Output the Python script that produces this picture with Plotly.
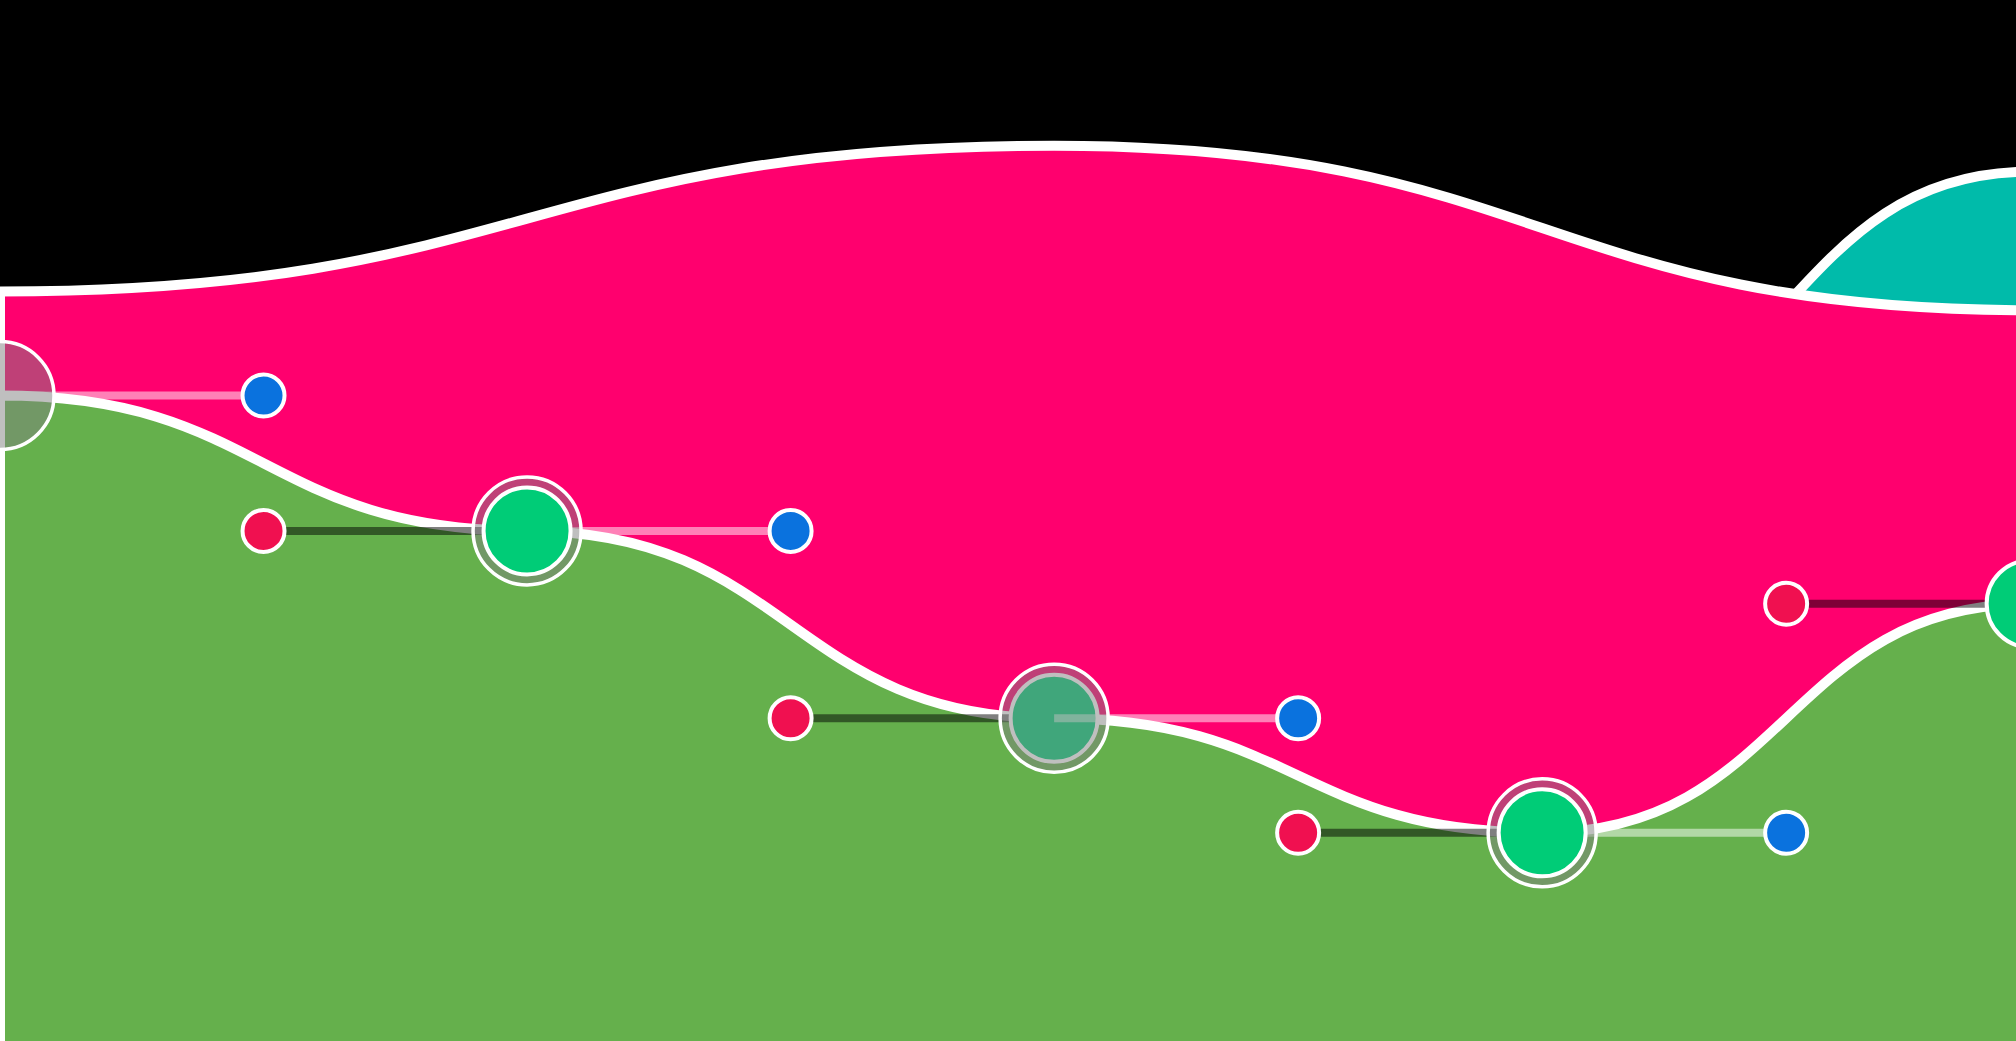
import plotly.graph_objects as go

# ---- data ----
X = [0, 10.8, 21.6, 31.6, 41.6]            # positions of the focus points
GREEN = [62, 49, 31, 20, 42]               # lower (green) series
PINK_X = [0, 21.6, 41.6]
PINK = [72, 86, 70.2]                      # middle (pink) series
TEAL_X = [31.6, 41.6]
TEAL = [58, 83.5]                          # upper-right (teal) series

# ---- view / styling (kept out of the data) ----
X_RANGE = [0, 41.31]
Y_RANGE = [0, 100]
BASE = -5
STATE = ["ring", "both", "faded", "both", "inner"]

C_PINK = "#FF006E"
C_GREEN = "#65B04C"
C_TEAL = "#00BBAA"
C_INNER = "#00CC77"
C_RED = "#F01050"
C_BLUE = "#0A72DE"
LINE_W = 10


def bump_path(xs, ys, base):
    d = f"M {xs[0]},{base} L {xs[0]},{ys[0]}"
    for i in range(1, len(xs)):
        xm = (xs[i - 1] + xs[i]) / 2
        d += f" C {xm},{ys[i-1]} {xm},{ys[i]} {xs[i]},{ys[i]}"
    d += f" L {xs[-1]},{base} Z"
    return d


n = len(X)
lefts = [X[0] - (X[1] - X[0]) / 2] + [(X[i - 1] + X[i]) / 2 for i in range(1, n)]
rights = [(X[i] + X[i + 1]) / 2 for i in range(n - 1)] + [X[-1] + (X[-1] - X[-2]) / 2]

fig = go.Figure()

shapes = []
for xs, ys, col in [(TEAL_X, TEAL, C_TEAL), (PINK_X, PINK, C_PINK), (X, GREEN, C_GREEN)]:
    shapes.append(dict(type="path", xref="x", yref="y", layer="below",
                       path=bump_path(xs, ys, BASE), fillcolor=col,
                       line=dict(color="white", width=LINE_W)))


def seg_trace(idx, starts, ends, color):
    xs, ys = [], []
    for i in idx:
        xs += [starts[i], ends[i], None]
        ys += [GREEN[i], GREEN[i], None]
    return go.Scatter(x=xs, y=ys, mode="lines", line=dict(color=color, width=8),
                      hoverinfo="skip", showlegend=False)


def marker_trace(idx, size, color, lw):
    return go.Scatter(x=[X[i] for i in idx], y=[GREEN[i] for i in idx], mode="markers",
                      marker=dict(size=size, color=color, line=dict(color="white", width=lw)),
                      hoverinfo="skip", showlegend=False)


all_i = list(range(n))
faded = [i for i in all_i if STATE[i] == "faded"]
not_faded = [i for i in all_i if STATE[i] != "faded"]

fig.add_trace(seg_trace(all_i, lefts, X, "rgba(0,0,0,0.5)"))
fig.add_trace(seg_trace(not_faded, X, rights, "rgba(255,255,255,0.5)"))
fig.add_trace(marker_trace([i for i in all_i if STATE[i] in ("ring", "both")], 108,
                           "rgba(128,128,128,0.5)", 3.5))
fig.add_trace(marker_trace([i for i in all_i if STATE[i] in ("both", "faded", "inner")], 87,
                           C_INNER, 4))
fig.add_trace(seg_trace(faded, X, rights, "rgba(255,255,255,0.5)"))
fig.add_trace(marker_trace(faded, 108, "rgba(128,128,128,0.5)", 3.5))

# start (red) and end (blue) dots of each range
fig.add_trace(go.Scatter(x=lefts, y=GREEN, mode="markers",
                         marker=dict(size=42, color=C_RED, line=dict(color="white", width=4)),
                         hoverinfo="skip", showlegend=False))
fig.add_trace(go.Scatter(x=rights, y=GREEN, mode="markers",
                         marker=dict(size=42, color=C_BLUE, line=dict(color="white", width=4)),
                         hoverinfo="skip", showlegend=False))

fig.update_layout(
    width=2016, height=1041,
    margin=dict(l=0, r=0, t=0, b=0),
    paper_bgcolor="black", plot_bgcolor="black",
    shapes=shapes,
    hovermode=False,
    xaxis=dict(range=X_RANGE, visible=False, showgrid=False, zeroline=False, fixedrange=True),
    yaxis=dict(range=Y_RANGE, visible=False, showgrid=False, zeroline=False, fixedrange=True),
)

fig.write_html("out.html", config={"displayModeBar": False},
               post_script="document.body.style.margin='0';document.body.style.overflow='hidden';")
